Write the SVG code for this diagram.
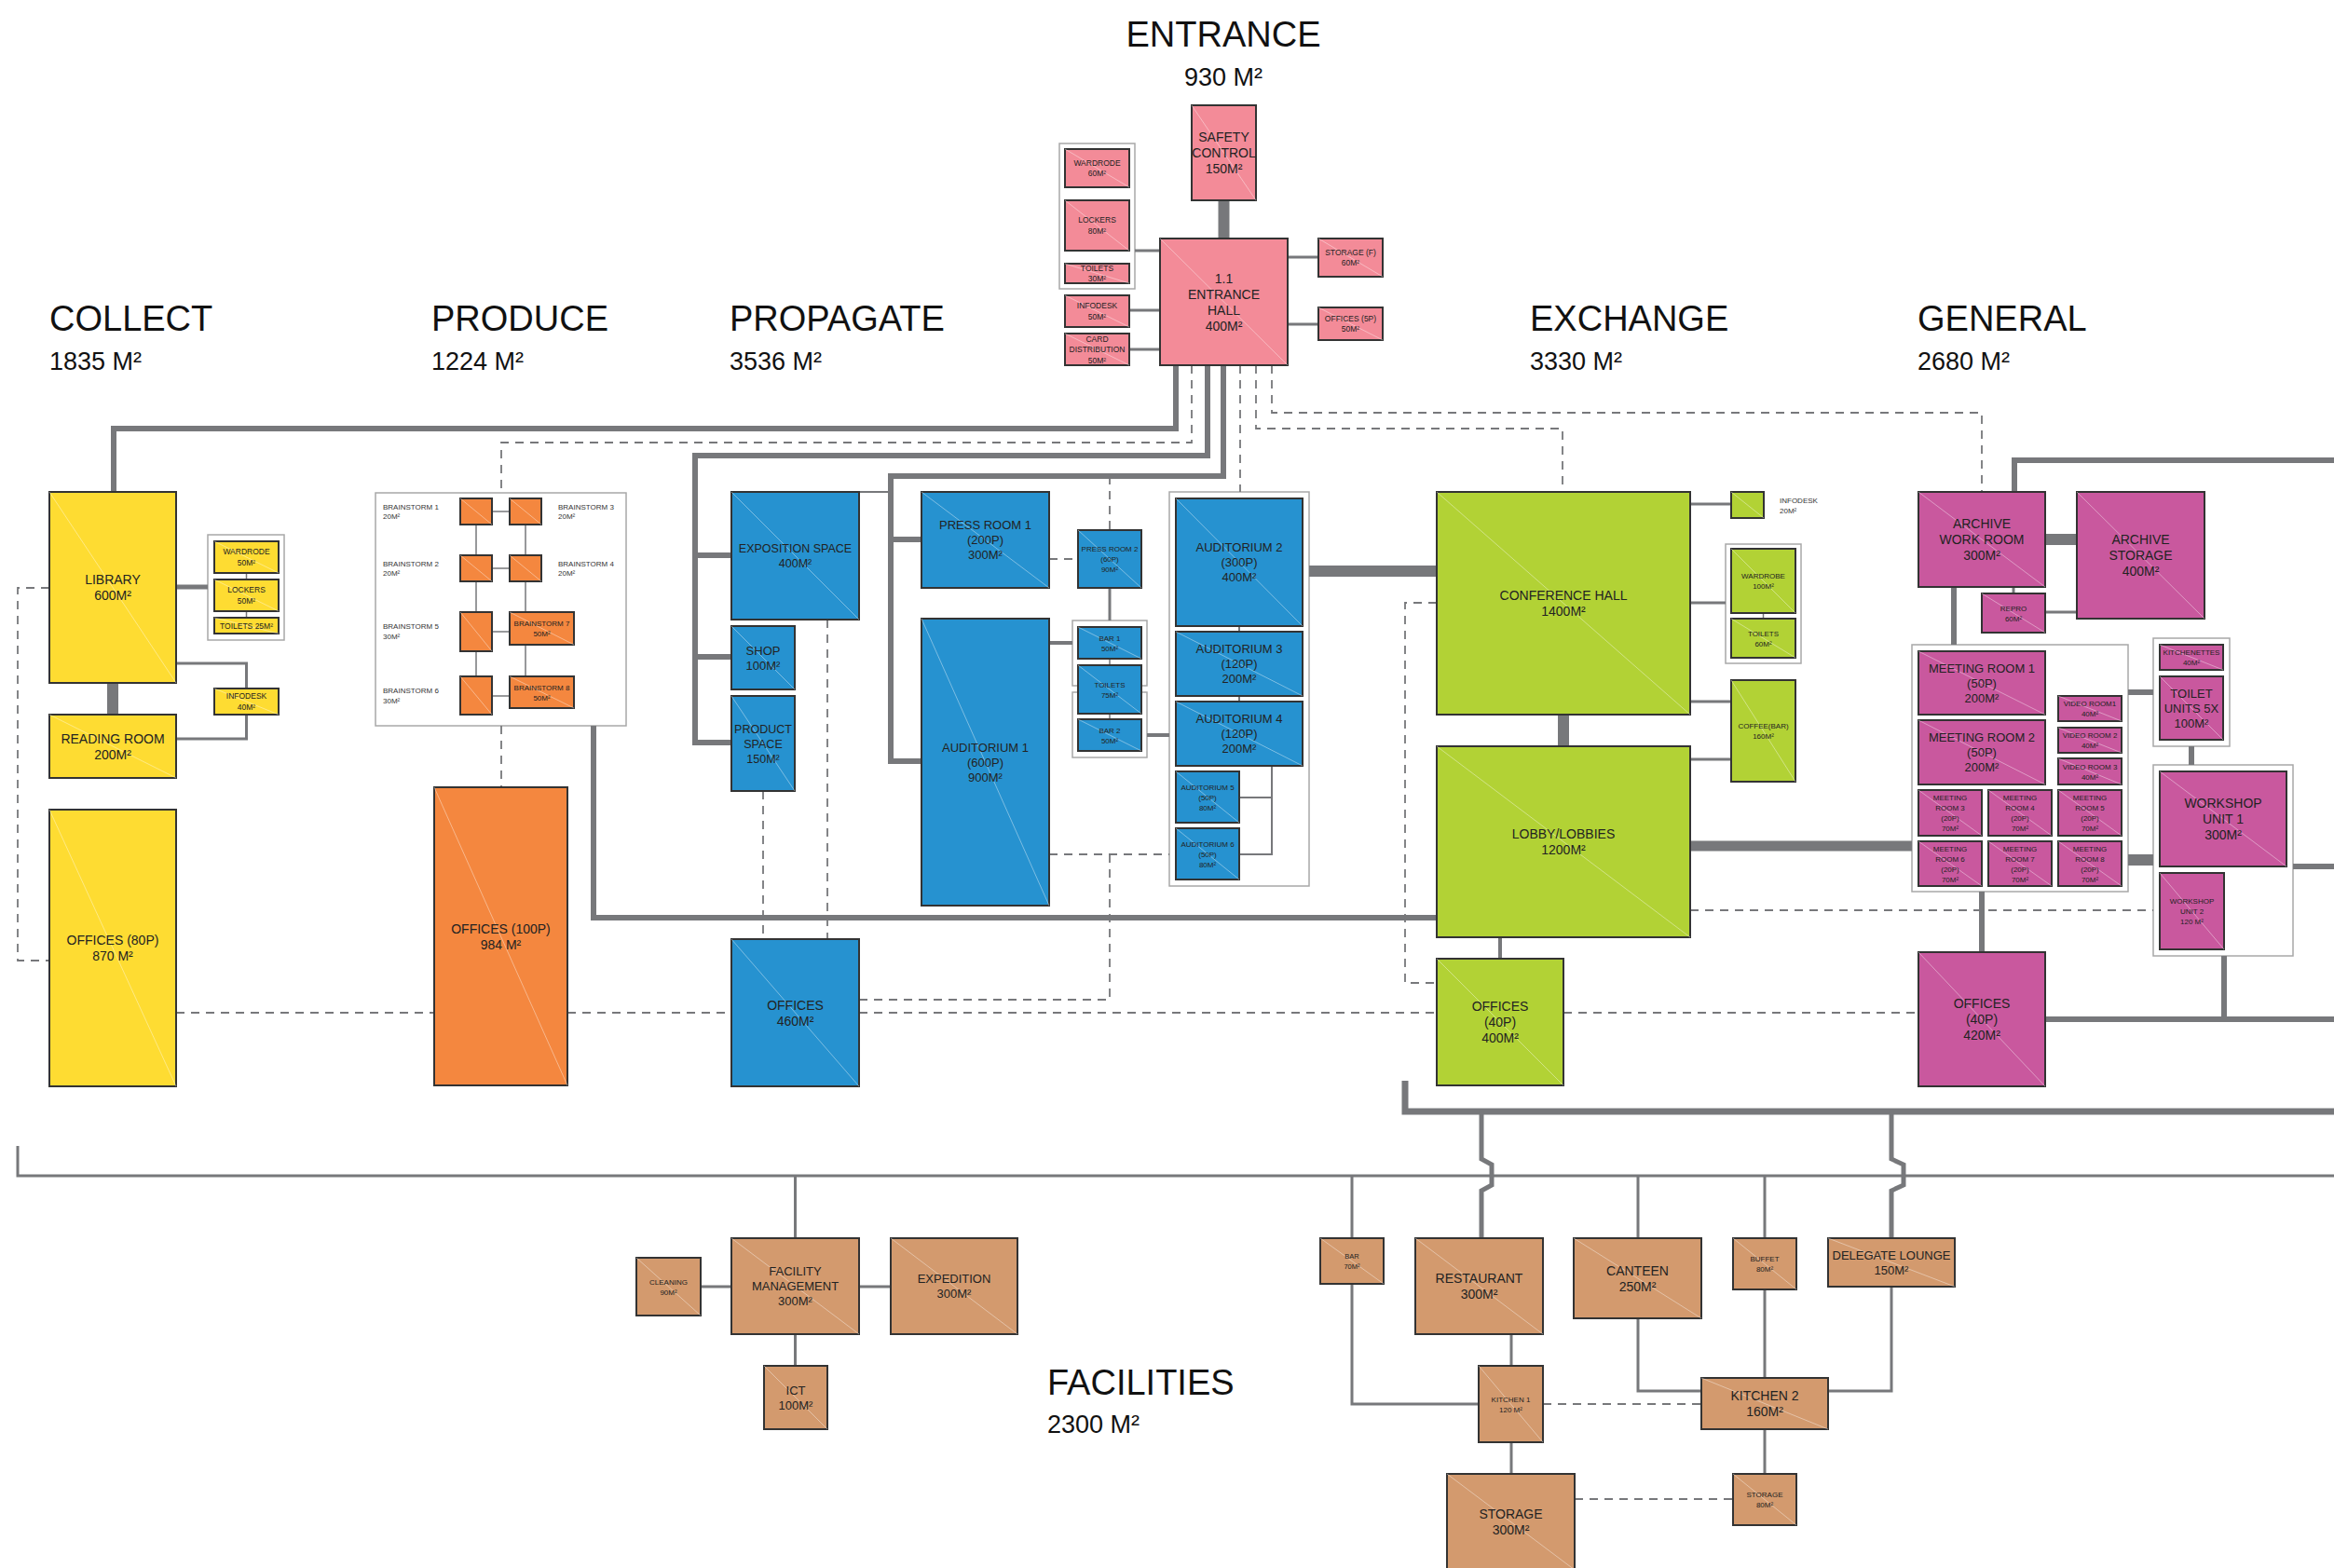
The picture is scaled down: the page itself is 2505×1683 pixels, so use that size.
<svg xmlns="http://www.w3.org/2000/svg" width="2505" height="1683" viewBox="0 0 2505 1683">
<style>
.bx{stroke:#333;stroke-width:2}
.pk{fill:#F38B98}.ye{fill:#FEDC32}.or{fill:#F4873F}.bl{fill:#2692D0}.gr{fill:#B2D235}.mg{fill:#C9589E}.tn{fill:#D39A6E}
.dg{stroke:#fff;stroke-opacity:.5;stroke-width:.8;fill:none}
.grp{fill:#fff;stroke:#a8a8a8;stroke-width:1.5}
.t{font-family:"Liberation Sans",Arial,sans-serif;fill:#222;text-anchor:middle}
.f14{font-size:14px}.f13{font-size:13px}.f12{font-size:12.5px}.f8{font-size:8px}.f85{font-size:8.5px}.f75{font-size:7.5px}
.lb{font-family:"Liberation Sans",Arial,sans-serif;fill:#333;font-size:8px}
.h1{font-family:"Liberation Sans",Arial,sans-serif;fill:#111;font-size:38px}
.h2{font-family:"Liberation Sans",Arial,sans-serif;fill:#111;font-size:27px}
.c{stroke:#77787b;fill:none;stroke-linejoin:miter}
.w1{stroke-width:1.5}.w2{stroke-width:2}.w3{stroke-width:3}.w4{stroke-width:4}.w5{stroke-width:5}.w6{stroke-width:6}.w7{stroke-width:7}.w11{stroke-width:11}.w12{stroke-width:12}
.ds{stroke:#77787b;fill:none;stroke-width:1.8;stroke-dasharray:9 7}
</style>
<rect width="2505" height="1683" fill="#fff"/>

<g id="titles">
<text class="h1" x="1313" y="50" text-anchor="middle">ENTRANCE</text>
<text class="h2" x="1313" y="92" text-anchor="middle">930 M²</text>
<text class="h1" x="53" y="355">COLLECT</text>
<text class="h2" x="53" y="397">1835 M²</text>
<text class="h1" x="463" y="355">PRODUCE</text>
<text class="h2" x="463" y="397">1224 M²</text>
<text class="h1" x="783" y="355">PROPAGATE</text>
<text class="h2" x="783" y="397">3536 M²</text>
<text class="h1" x="1642" y="355">EXCHANGE</text>
<text class="h2" x="1642" y="397">3330 M²</text>
<text class="h1" x="2058" y="355">GENERAL</text>
<text class="h2" x="2058" y="397">2680 M²</text>
<text class="h1" x="1124" y="1497">FACILITIES</text>
<text class="h2" x="1124" y="1538">2300 M²</text>
</g>

<g id="groups">
<rect class="grp" x="1137" y="154" width="81" height="156"/>
<rect class="grp" x="223" y="574" width="82" height="113"/>
<rect class="grp" x="403" y="529" width="269" height="250"/>
<rect class="grp" x="1151" y="666" width="80" height="70"/>
<rect class="grp" x="1151" y="743" width="80" height="70"/>
<rect class="grp" x="1255" y="528" width="150" height="423"/>
<rect class="grp" x="1852" y="584" width="81" height="128"/>
<rect class="grp" x="2052" y="692" width="232" height="265"/>
<rect class="grp" x="2311" y="685" width="82" height="116"/>
<rect class="grp" x="2311" y="821" width="150" height="205"/>
</g>

<g id="connectors">
<!-- entrance -->
<path class="c w12" d="M1313.5,215V256"/>
<path class="c w3" d="M1218,269H1245M1212,333H1245M1212,375H1245M1382,276H1415M1382,348H1415"/>
<path class="c w6" d="M1262,392V460H122V528"/>
<path class="ds" d="M1279,392V475H538V529"/>
<path class="c w6" d="M1296,392V489H746V797H785M746,596H785M746,705H785"/>
<path class="c w6" d="M1313,392V511H956V817H989M956,579H989"/>
<path class="ds" d="M1331,392V528"/>
<path class="ds" d="M1365,392V443H2127V528"/>
<path class="ds" d="M1348,392V460H1677V528"/>
<!-- collect -->
<path class="c w5" d="M189,630H223"/>
<path class="c w1" d="M264.5,615V622M264.5,656V663"/>
<path class="c w3" d="M189,712H264.5V739M264.5,767V793H189"/>
<path class="c w12" d="M121,733V767"/>
<path class="ds" d="M53,631H19V1031H53"/>
<path class="ds" d="M189,1087H466M609,1087H785M922,1087H1542M1678,1087H2059"/>
<!-- produce -->
<path class="c w1" d="M528,549H547M528,610H547M528,678H547M528,747H547M511,563V596M511,624V657M511,699V726M564,563V596M564,624V657M564,692V726"/>
<path class="ds" d="M538,779V845"/>
<path class="c w6" d="M637,779V985H1542"/>
<!-- propagate -->
<path class="c w2" d="M922,528H956"/>
<path class="ds" d="M1191,511V569M1126,600H1157"/>
<path class="c w3" d="M1191,631V666"/>
<path class="c w4" d="M1126,690H1151M1231,789H1255"/>
<path class="c w1" d="M1191,707V714M1191,766V772"/>
<path class="ds" d="M1126,917H1255M1191,917V1073H922"/>
<path class="c w2" d="M1330,672V678M1330,747V753M1365,822V917H1330M1365,856H1330"/>
<path class="ds" d="M819,849V1008M888,665V1008"/>
<path class="c w12" d="M1405,613H1542"/>
<!-- exchange -->
<path class="c w12" d="M1678,767V801"/>
<path class="c w4" d="M1610,1006V1029"/>
<path class="c w3" d="M1814,541H1858M1814,647H1852M1814,753H1858M1814,815H1858"/>
<path class="c w1" d="M1892.5,658V664"/>
<path class="ds" d="M1542,647H1508V1055H1542"/>
<path class="c w11" d="M1814,908H2052"/>
<path class="ds" d="M1814,977H2311"/>
<path class="c w7" d="M1508,1160V1193H2505"/>
<!-- general -->
<path class="c w6" d="M2162,528V494H2505"/>
<path class="c w12" d="M2195,579H2229"/>
<path class="c w3" d="M2161,630V637M2195,657H2229"/>
<path class="c w6" d="M2097,630V692M2284,743H2311M2352,801V821M2461,930H2505M2127,957V1022M2195,1094H2505M2387,1026V1094"/>
<path class="c w12" d="M2284,923H2311"/>
<!-- facilities -->
<path class="c w3" d="M19,1230V1262H2505"/>
<path class="c w3" d="M853.5,1262V1329M752,1381H785M922,1381H956M853.5,1432V1466"/>
<path class="c w3" d="M1451,1262V1329M1451,1378V1507H1587M1758,1262V1329M1758,1415V1493H1826M1894,1262V1329M1894,1384V1479M2030,1381V1493H1962M1622,1432V1466M1622,1548V1582M1894,1534V1582"/>
<path class="ds" d="M1656,1507H1826M1690,1609H1860"/>
<path class="c w5" d="M1590,1193V1244L1601,1250V1272L1590,1278V1329M2030,1193V1244L2043,1250V1272L2030,1278V1329"/>
</g>

<!-- ENTRANCE -->
<g id="safety-control"><rect class="bx pk" x="1279" y="113" width="69" height="102"/><path class="dg" d="M1279,113L1348,215"/><text class="t f14"><tspan x="1313.5" y="152">SAFETY</tspan><tspan x="1313.5" y="169">CONTROL</tspan><tspan x="1313.5" y="186">150M²</tspan></text></g>
<g id="entrance-hall"><rect class="bx pk" x="1245" y="256" width="137" height="136"/><path class="dg" d="M1245,256L1382,392"/><text class="t f14"><tspan x="1313.5" y="303.5">1.1</tspan><tspan x="1313.5" y="320.5">ENTRANCE</tspan><tspan x="1313.5" y="337.5">HALL</tspan><tspan x="1313.5" y="354.5">400M²</tspan></text></g>
<g id="e-wardrode"><rect class="bx pk" x="1143" y="160" width="69" height="41"/><path class="dg" d="M1143,160L1212,201"/><text class="t f85"><tspan x="1177.5" y="177.8">WARDRODE</tspan><tspan x="1177.5" y="189.3">60M²</tspan></text></g>
<g id="e-lockers"><rect class="bx pk" x="1143" y="215" width="69" height="54"/><path class="dg" d="M1143,215L1212,269"/><text class="t f85"><tspan x="1177.5" y="239.3">LOCKERS</tspan><tspan x="1177.5" y="250.8">80M²</tspan></text></g>
<g id="e-toilets"><rect class="bx pk" x="1143" y="283" width="69" height="21"/><path class="dg" d="M1143,283L1212,304"/><text class="t f85"><tspan x="1177.5" y="290.8">TOILETS</tspan><tspan x="1177.5" y="302.3">30M²</tspan></text></g>
<g id="e-infodesk"><rect class="bx pk" x="1143" y="317" width="69" height="34"/><path class="dg" d="M1143,317L1212,351"/><text class="t f85"><tspan x="1177.5" y="331.3">INFODESK</tspan><tspan x="1177.5" y="342.8">50M²</tspan></text></g>
<g id="e-card"><rect class="bx pk" x="1143" y="358" width="69" height="34"/><path class="dg" d="M1143,358L1212,392"/><text class="t f85"><tspan x="1177.5" y="366.6">CARD</tspan><tspan x="1177.5" y="378.1">DISTRIBUTION</tspan><tspan x="1177.5" y="389.6">50M²</tspan></text></g>
<g id="e-storage"><rect class="bx pk" x="1415" y="256" width="69" height="41"/><path class="dg" d="M1415,256L1484,297"/><text class="t f85"><tspan x="1449.5" y="273.8">STORAGE (F)</tspan><tspan x="1449.5" y="285.3">60M²</tspan></text></g>
<g id="e-offices"><rect class="bx pk" x="1415" y="330" width="69" height="35"/><path class="dg" d="M1415,330L1484,365"/><text class="t f85"><tspan x="1449.5" y="344.8">OFFICES (5P)</tspan><tspan x="1449.5" y="356.3">50M²</tspan></text></g>

<!-- COLLECT -->
<g id="library"><rect class="bx ye" x="53" y="528" width="136" height="205"/><path class="dg" d="M53,528L189,733"/><text class="t f14"><tspan x="121" y="627">LIBRARY</tspan><tspan x="121" y="644">600M²</tspan></text></g>
<g id="c-wardrode"><rect class="bx ye" x="230" y="581" width="69" height="34"/><path class="dg" d="M230,581L299,615"/><text class="t f85"><tspan x="264.5" y="595.3">WARDRODE</tspan><tspan x="264.5" y="606.8">50M²</tspan></text></g>
<g id="c-lockers"><rect class="bx ye" x="230" y="622" width="69" height="34"/><path class="dg" d="M230,622L299,656"/><text class="t f85"><tspan x="264.5" y="636.3">LOCKERS</tspan><tspan x="264.5" y="647.8">50M²</tspan></text></g>
<g id="c-toilets"><rect class="bx ye" x="230" y="663" width="69" height="17"/><path class="dg" d="M230,663L299,680"/><text class="t f85" x="264.5" y="674.6">TOILETS 25M²</text></g>
<g id="c-infodesk"><rect class="bx ye" x="230" y="739" width="69" height="28"/><path class="dg" d="M230,739L299,767"/><text class="t f85"><tspan x="264.5" y="750.3">INFODESK</tspan><tspan x="264.5" y="761.8">40M²</tspan></text></g>
<g id="reading-room"><rect class="bx ye" x="53" y="767" width="136" height="68"/><path class="dg" d="M53,767L189,835"/><text class="t f14"><tspan x="121" y="797.5">READING ROOM</tspan><tspan x="121" y="814.5">200M²</tspan></text></g>
<g id="c-offices"><rect class="bx ye" x="53" y="869" width="136" height="297"/><path class="dg" d="M53,869L189,1166"/><text class="t f14"><tspan x="121" y="1014">OFFICES (80P)</tspan><tspan x="121" y="1031">870 M²</tspan></text></g>

<!-- PRODUCE -->
<g id="bs1"><rect class="bx or" x="494" y="535" width="34" height="28"/><path class="dg" d="M494,535L528,563"/><text class="lb"><tspan x="411" y="547">BRAINSTORM 1</tspan><tspan x="411" y="557">20M²</tspan></text></g>
<g id="bs3"><rect class="bx or" x="547" y="535" width="34" height="28"/><path class="dg" d="M547,535L581,563"/><text class="lb"><tspan x="599" y="547">BRAINSTORM 3</tspan><tspan x="599" y="557">20M²</tspan></text></g>
<g id="bs2"><rect class="bx or" x="494" y="596" width="34" height="28"/><path class="dg" d="M494,596L528,624"/><text class="lb"><tspan x="411" y="608">BRAINSTORM 2</tspan><tspan x="411" y="618">20M²</tspan></text></g>
<g id="bs4"><rect class="bx or" x="547" y="596" width="34" height="28"/><path class="dg" d="M547,596L581,624"/><text class="lb"><tspan x="599" y="608">BRAINSTORM 4</tspan><tspan x="599" y="618">20M²</tspan></text></g>
<g id="bs5"><rect class="bx or" x="494" y="657" width="34" height="42"/><path class="dg" d="M494,657L528,699"/><text class="lb"><tspan x="411" y="675">BRAINSTORM 5</tspan><tspan x="411" y="686">30M²</tspan></text></g>
<g id="bs7"><rect class="bx or" x="547" y="657" width="69" height="35"/><path class="dg" d="M547,657L616,692"/><text class="t f8"><tspan x="581.5" y="672">BRAINSTORM 7</tspan><tspan x="581.5" y="683">50M²</tspan></text></g>
<g id="bs6"><rect class="bx or" x="494" y="726" width="34" height="41"/><path class="dg" d="M494,726L528,767"/><text class="lb"><tspan x="411" y="744">BRAINSTORM 6</tspan><tspan x="411" y="755">30M²</tspan></text></g>
<g id="bs8"><rect class="bx or" x="547" y="726" width="69" height="34"/><path class="dg" d="M547,726L616,760"/><text class="t f8"><tspan x="581.5" y="740.5">BRAINSTORM 8</tspan><tspan x="581.5" y="751.5">50M²</tspan></text></g>
<g id="p-offices"><rect class="bx or" x="466" y="845" width="143" height="320"/><path class="dg" d="M466,845L609,1165"/><text class="t f14"><tspan x="537.5" y="1002">OFFICES (100P)</tspan><tspan x="537.5" y="1019">984 M²</tspan></text></g>

<!-- PROPAGATE -->
<g id="exposition"><rect class="bx bl" x="785" y="528" width="137" height="137"/><path class="dg" d="M785,528L922,665"/><text class="t f12"><tspan x="853.5" y="593">EXPOSITION SPACE</tspan><tspan x="853.5" y="609">400M²</tspan></text></g>
<g id="shop"><rect class="bx bl" x="785" y="672" width="68" height="68"/><path class="dg" d="M785,672L853,740"/><text class="t f13"><tspan x="819" y="703">SHOP</tspan><tspan x="819" y="719">100M²</tspan></text></g>
<g id="product-space"><rect class="bx bl" x="785" y="747" width="68" height="102"/><path class="dg" d="M785,747L853,849"/><text class="t f12"><tspan x="819" y="786.5">PRODUCT</tspan><tspan x="819" y="802.5">SPACE</tspan><tspan x="819" y="818.5">150M²</tspan></text></g>
<g id="pr-offices"><rect class="bx bl" x="785" y="1008" width="137" height="158"/><path class="dg" d="M785,1008L922,1166"/><text class="t f14"><tspan x="853.5" y="1083.5">OFFICES</tspan><tspan x="853.5" y="1100.5">460M²</tspan></text></g>
<g id="press-room-1"><rect class="bx bl" x="989" y="528" width="137" height="103"/><path class="dg" d="M989,528L1126,631"/><text class="t f13"><tspan x="1057.5" y="568.2">PRESS ROOM 1</tspan><tspan x="1057.5" y="584.2">(200P)</tspan><tspan x="1057.5" y="600.2">300M²</tspan></text></g>
<g id="press-room-2"><rect class="bx bl" x="1157" y="569" width="68" height="62"/><path class="dg" d="M1157,569L1225,631"/><text class="t f8"><tspan x="1191" y="592">PRESS ROOM 2</tspan><tspan x="1191" y="603">(60P)</tspan><tspan x="1191" y="614">90M²</tspan></text></g>
<g id="auditorium-1"><rect class="bx bl" x="989" y="664" width="137" height="308"/><path class="dg" d="M989,664L1126,972"/><text class="t f13"><tspan x="1057.5" y="806.7">AUDITORIUM 1</tspan><tspan x="1057.5" y="822.7">(600P)</tspan><tspan x="1057.5" y="838.7">900M²</tspan></text></g>
<g id="bar-1"><rect class="bx bl" x="1157" y="673" width="68" height="34"/><path class="dg" d="M1157,673L1225,707"/><text class="t f8"><tspan x="1191" y="687.5">BAR 1</tspan><tspan x="1191" y="698.5">50M²</tspan></text></g>
<g id="p-toilets"><rect class="bx bl" x="1157" y="714" width="68" height="52"/><path class="dg" d="M1157,714L1225,766"/><text class="t f8"><tspan x="1191" y="737.5">TOILETS</tspan><tspan x="1191" y="748.5">75M²</tspan></text></g>
<g id="bar-2"><rect class="bx bl" x="1157" y="772" width="68" height="34"/><path class="dg" d="M1157,772L1225,806"/><text class="t f8"><tspan x="1191" y="786.5">BAR 2</tspan><tspan x="1191" y="797.5">50M²</tspan></text></g>
<g id="auditorium-2"><rect class="bx bl" x="1262" y="535" width="136" height="137"/><path class="dg" d="M1262,535L1398,672"/><text class="t f13"><tspan x="1330" y="592.2">AUDITORIUM 2</tspan><tspan x="1330" y="608.2">(300P)</tspan><tspan x="1330" y="624.2">400M²</tspan></text></g>
<g id="auditorium-3"><rect class="bx bl" x="1262" y="678" width="136" height="69"/><path class="dg" d="M1262,678L1398,747"/><text class="t f13"><tspan x="1330" y="701.2">AUDITORIUM 3</tspan><tspan x="1330" y="717.2">(120P)</tspan><tspan x="1330" y="733.2">200M²</tspan></text></g>
<g id="auditorium-4"><rect class="bx bl" x="1262" y="753" width="136" height="69"/><path class="dg" d="M1262,753L1398,822"/><text class="t f13"><tspan x="1330" y="776.2">AUDITORIUM 4</tspan><tspan x="1330" y="792.2">(120P)</tspan><tspan x="1330" y="808.2">200M²</tspan></text></g>
<g id="auditorium-5"><rect class="bx bl" x="1262" y="828" width="68" height="55"/><path class="dg" d="M1262,828L1330,883"/><text class="t f8"><tspan x="1296" y="847.5">AUDITORIUM 5</tspan><tspan x="1296" y="858.5">(50P)</tspan><tspan x="1296" y="869.5">80M²</tspan></text></g>
<g id="auditorium-6"><rect class="bx bl" x="1262" y="889" width="68" height="55"/><path class="dg" d="M1262,889L1330,944"/><text class="t f8"><tspan x="1296" y="908.5">AUDITORIUM 6</tspan><tspan x="1296" y="919.5">(50P)</tspan><tspan x="1296" y="930.5">80M²</tspan></text></g>

<!-- EXCHANGE -->
<g id="conference-hall"><rect class="bx gr" x="1542" y="528" width="272" height="239"/><path class="dg" d="M1542,528L1814,767"/><text class="t f14"><tspan x="1678" y="644">CONFERENCE HALL</tspan><tspan x="1678" y="661">1400M²</tspan></text></g>
<g id="lobby"><rect class="bx gr" x="1542" y="801" width="272" height="205"/><path class="dg" d="M1542,801L1814,1006"/><text class="t f14"><tspan x="1678" y="900">LOBBY/LOBBIES</tspan><tspan x="1678" y="917">1200M²</tspan></text></g>
<g id="x-offices"><rect class="bx gr" x="1542" y="1029" width="136" height="136"/><path class="dg" d="M1542,1029L1678,1165"/><text class="t f14"><tspan x="1610" y="1085">OFFICES</tspan><tspan x="1610" y="1102">(40P)</tspan><tspan x="1610" y="1119">400M²</tspan></text></g>
<g id="x-infodesk"><rect class="bx gr" x="1858" y="528" width="35" height="28"/><path class="dg" d="M1858,528L1893,556"/><text class="lb"><tspan x="1910" y="540">INFODESK</tspan><tspan x="1910" y="551">20M²</tspan></text></g>
<g id="x-wardrobe"><rect class="bx gr" x="1858" y="589" width="69" height="69"/><path class="dg" d="M1858,589L1927,658"/><text class="t f8"><tspan x="1892.5" y="621">WARDROBE</tspan><tspan x="1892.5" y="632">100M²</tspan></text></g>
<g id="x-toilets"><rect class="bx gr" x="1858" y="664" width="69" height="42"/><path class="dg" d="M1858,664L1927,706"/><text class="t f8"><tspan x="1892.5" y="682.5">TOILETS</tspan><tspan x="1892.5" y="693.5">60M²</tspan></text></g>
<g id="coffee-bar"><rect class="bx gr" x="1858" y="730" width="69" height="109"/><path class="dg" d="M1858,730L1927,839"/><text class="t f8"><tspan x="1892.5" y="782">COFFEE(BAR)</tspan><tspan x="1892.5" y="793">160M²</tspan></text></g>

<!-- GENERAL -->
<g id="archive-work"><rect class="bx mg" x="2059" y="528" width="136" height="102"/><path class="dg" d="M2059,528L2195,630"/><text class="t f14"><tspan x="2127" y="567">ARCHIVE</tspan><tspan x="2127" y="584">WORK ROOM</tspan><tspan x="2127" y="601">300M²</tspan></text></g>
<g id="archive-storage"><rect class="bx mg" x="2229" y="528" width="137" height="136"/><path class="dg" d="M2229,528L2366,664"/><text class="t f14"><tspan x="2297.5" y="584">ARCHIVE</tspan><tspan x="2297.5" y="601">STORAGE</tspan><tspan x="2297.5" y="618">400M²</tspan></text></g>
<g id="repro"><rect class="bx mg" x="2127" y="637" width="68" height="42"/><path class="dg" d="M2127,637L2195,679"/><text class="t f8"><tspan x="2161" y="655.5">REPRO</tspan><tspan x="2161" y="666.5">60M²</tspan></text></g>
<g id="meeting-1"><rect class="bx mg" x="2059" y="699" width="136" height="68"/><path class="dg" d="M2059,699L2195,767"/><text class="t f13"><tspan x="2127" y="721.7">MEETING ROOM 1</tspan><tspan x="2127" y="737.7">(50P)</tspan><tspan x="2127" y="753.7">200M²</tspan></text></g>
<g id="meeting-2"><rect class="bx mg" x="2059" y="773" width="136" height="69"/><path class="dg" d="M2059,773L2195,842"/><text class="t f13"><tspan x="2127" y="796.2">MEETING ROOM 2</tspan><tspan x="2127" y="812.2">(50P)</tspan><tspan x="2127" y="828.2">200M²</tspan></text></g>
<g id="video-1"><rect class="bx mg" x="2209" y="747" width="68" height="27"/><path class="dg" d="M2209,747L2277,774"/><text class="t f8"><tspan x="2243" y="758">VIDEO ROOM1</tspan><tspan x="2243" y="769">40M²</tspan></text></g>
<g id="video-2"><rect class="bx mg" x="2209" y="781" width="68" height="27"/><path class="dg" d="M2209,781L2277,808"/><text class="t f8"><tspan x="2243" y="792">VIDEO ROOM 2</tspan><tspan x="2243" y="803">40M²</tspan></text></g>
<g id="video-3"><rect class="bx mg" x="2209" y="814" width="68" height="28"/><path class="dg" d="M2209,814L2277,842"/><text class="t f8"><tspan x="2243" y="825.5">VIDEO ROOM 3</tspan><tspan x="2243" y="836.5">40M²</tspan></text></g>
<g id="meeting-3"><rect class="bx mg" x="2059" y="848" width="68" height="49"/><path class="dg" d="M2059,848L2127,897"/><text class="t f8"><tspan x="2093" y="859">MEETING</tspan><tspan x="2093" y="870">ROOM 3</tspan><tspan x="2093" y="881">(20P)</tspan><tspan x="2093" y="892">70M²</tspan></text></g>
<g id="meeting-4"><rect class="bx mg" x="2134" y="848" width="68" height="49"/><path class="dg" d="M2134,848L2202,897"/><text class="t f8"><tspan x="2168" y="859">MEETING</tspan><tspan x="2168" y="870">ROOM 4</tspan><tspan x="2168" y="881">(20P)</tspan><tspan x="2168" y="892">70M²</tspan></text></g>
<g id="meeting-5"><rect class="bx mg" x="2209" y="848" width="68" height="49"/><path class="dg" d="M2209,848L2277,897"/><text class="t f8"><tspan x="2243" y="859">MEETING</tspan><tspan x="2243" y="870">ROOM 5</tspan><tspan x="2243" y="881">(20P)</tspan><tspan x="2243" y="892">70M²</tspan></text></g>
<g id="meeting-6"><rect class="bx mg" x="2059" y="903" width="68" height="48"/><path class="dg" d="M2059,903L2127,951"/><text class="t f8"><tspan x="2093" y="913.5">MEETING</tspan><tspan x="2093" y="924.5">ROOM 6</tspan><tspan x="2093" y="935.5">(20P)</tspan><tspan x="2093" y="946.5">70M²</tspan></text></g>
<g id="meeting-7"><rect class="bx mg" x="2134" y="903" width="68" height="48"/><path class="dg" d="M2134,903L2202,951"/><text class="t f8"><tspan x="2168" y="913.5">MEETING</tspan><tspan x="2168" y="924.5">ROOM 7</tspan><tspan x="2168" y="935.5">(20P)</tspan><tspan x="2168" y="946.5">70M²</tspan></text></g>
<g id="meeting-8"><rect class="bx mg" x="2209" y="903" width="68" height="48"/><path class="dg" d="M2209,903L2277,951"/><text class="t f8"><tspan x="2243" y="913.5">MEETING</tspan><tspan x="2243" y="924.5">ROOM 8</tspan><tspan x="2243" y="935.5">(20P)</tspan><tspan x="2243" y="946.5">70M²</tspan></text></g>
<g id="kitchenettes"><rect class="bx mg" x="2318" y="692" width="68" height="27"/><path class="dg" d="M2318,692L2386,719"/><text class="t f8"><tspan x="2352" y="703">KITCHENETTES</tspan><tspan x="2352" y="714">40M²</tspan></text></g>
<g id="toilet-units"><rect class="bx mg" x="2318" y="726" width="68" height="68"/><path class="dg" d="M2318,726L2386,794"/><text class="t f13"><tspan x="2352" y="748.7">TOILET</tspan><tspan x="2352" y="764.7">UNITS 5X</tspan><tspan x="2352" y="780.7">100M²</tspan></text></g>
<g id="workshop-1"><rect class="bx mg" x="2318" y="828" width="136" height="102"/><path class="dg" d="M2318,828L2454,930"/><text class="t f14"><tspan x="2386" y="867">WORKSHOP</tspan><tspan x="2386" y="884">UNIT 1</tspan><tspan x="2386" y="901">300M²</tspan></text></g>
<g id="workshop-2"><rect class="bx mg" x="2318" y="937" width="69" height="82"/><path class="dg" d="M2318,937L2387,1019"/><text class="t f8"><tspan x="2352.5" y="970">WORKSHOP</tspan><tspan x="2352.5" y="981">UNIT 2</tspan><tspan x="2352.5" y="992">120 M²</tspan></text></g>
<g id="g-offices"><rect class="bx mg" x="2059" y="1022" width="136" height="144"/><path class="dg" d="M2059,1022L2195,1166"/><text class="t f14"><tspan x="2127" y="1082">OFFICES</tspan><tspan x="2127" y="1099">(40P)</tspan><tspan x="2127" y="1116">420M²</tspan></text></g>

<!-- FACILITIES -->
<g id="cleaning"><rect class="bx tn" x="683" y="1350" width="69" height="62"/><path class="dg" d="M683,1350L752,1412"/><text class="t f8"><tspan x="717.5" y="1378.5">CLEANING</tspan><tspan x="717.5" y="1389.5">90M²</tspan></text></g>
<g id="facility-management"><rect class="bx tn" x="785" y="1329" width="137" height="103"/><path class="dg" d="M785,1329L922,1432"/><text class="t f13"><tspan x="853.5" y="1369.2">FACILITY</tspan><tspan x="853.5" y="1385.2">MANAGEMENT</tspan><tspan x="853.5" y="1401.2">300M²</tspan></text></g>
<g id="expedition"><rect class="bx tn" x="956" y="1329" width="136" height="103"/><path class="dg" d="M956,1329L1092,1432"/><text class="t f13"><tspan x="1024" y="1377.2">EXPEDITION</tspan><tspan x="1024" y="1393.2">300M²</tspan></text></g>
<g id="ict"><rect class="bx tn" x="820" y="1466" width="68" height="68"/><path class="dg" d="M820,1466L888,1534"/><text class="t f13"><tspan x="854" y="1496.7">ICT</tspan><tspan x="854" y="1512.7">100M²</tspan></text></g>
<g id="f-bar"><rect class="bx tn" x="1417" y="1329" width="68" height="49"/><path class="dg" d="M1417,1329L1485,1378"/><text class="t f75"><tspan x="1451" y="1351">BAR</tspan><tspan x="1451" y="1361.5">70M²</tspan></text></g>
<g id="restaurant"><rect class="bx tn" x="1519" y="1329" width="137" height="103"/><path class="dg" d="M1519,1329L1656,1432"/><text class="t f14"><tspan x="1587.5" y="1377">RESTAURANT</tspan><tspan x="1587.5" y="1394">300M²</tspan></text></g>
<g id="canteen"><rect class="bx tn" x="1689" y="1329" width="137" height="86"/><path class="dg" d="M1689,1329L1826,1415"/><text class="t f14"><tspan x="1757.5" y="1368.5">CANTEEN</tspan><tspan x="1757.5" y="1385.5">250M²</tspan></text></g>
<g id="buffet"><rect class="bx tn" x="1860" y="1329" width="68" height="55"/><path class="dg" d="M1860,1329L1928,1384"/><text class="t f8"><tspan x="1894" y="1354">BUFFET</tspan><tspan x="1894" y="1365">80M²</tspan></text></g>
<g id="delegate-lounge"><rect class="bx tn" x="1962" y="1329" width="136" height="52"/><path class="dg" d="M1962,1329L2098,1381"/><text class="t f13"><tspan x="2030" y="1351.7">DELEGATE LOUNGE</tspan><tspan x="2030" y="1367.7">150M²</tspan></text></g>
<g id="kitchen-1"><rect class="bx tn" x="1587" y="1466" width="69" height="82"/><path class="dg" d="M1587,1466L1656,1548"/><text class="t f8"><tspan x="1621.5" y="1504.5">KITCHEN 1</tspan><tspan x="1621.5" y="1515.5">120 M²</tspan></text></g>
<g id="kitchen-2"><rect class="bx tn" x="1826" y="1479" width="136" height="55"/><path class="dg" d="M1826,1479L1962,1534"/><text class="t f14"><tspan x="1894" y="1503">KITCHEN 2</tspan><tspan x="1894" y="1520">160M²</tspan></text></g>
<g id="storage-300"><rect class="bx tn" x="1553" y="1582" width="137" height="103"/><path class="dg" d="M1553,1582L1690,1685"/><text class="t f14"><tspan x="1621.5" y="1630">STORAGE</tspan><tspan x="1621.5" y="1647">300M²</tspan></text></g>
<g id="storage-80"><rect class="bx tn" x="1860" y="1582" width="68" height="55"/><path class="dg" d="M1860,1582L1928,1637"/><text class="t f8"><tspan x="1894" y="1607">STORAGE</tspan><tspan x="1894" y="1618">80M²</tspan></text></g>
</svg>
